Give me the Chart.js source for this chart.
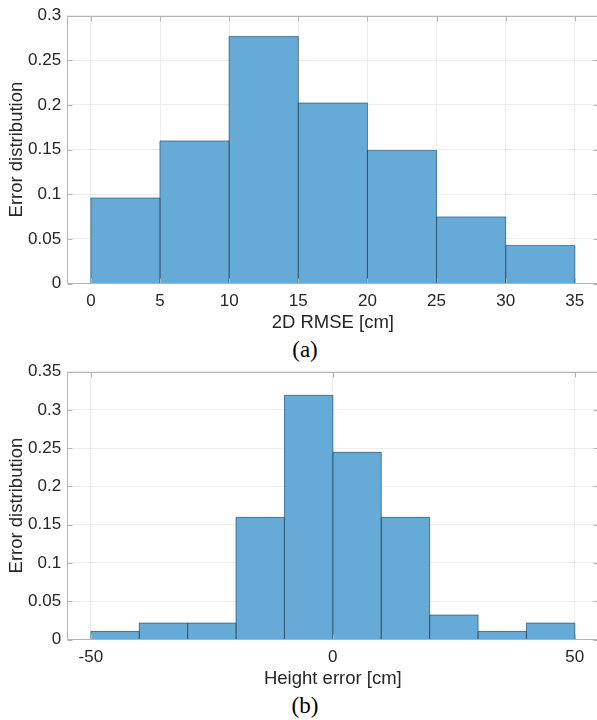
<!DOCTYPE html>
<html><head><meta charset="utf-8">
<script src="https://cdn.jsdelivr.net/npm/chart.js@4"></script>
<style>
html,body{margin:0;padding:0;background:#fff;overflow:hidden;width:597px;height:720px;}
.wrap{position:absolute;left:0;width:600px;}
.cap{position:absolute;width:100px;text-align:center;font-family:"Liberation Serif","Times New Roman",serif;font-size:23px;line-height:26px;color:#000;}
</style></head><body>
<div class="wrap" style="top:0;height:334px"><canvas id="ca"></canvas></div>
<div class="cap" style="left:255px;top:337px">(a)</div>
<div class="wrap" style="top:356px;height:334px"><canvas id="cb"></canvas></div>
<div class="cap" style="left:255px;top:693px">(b)</div>
<script>
// ---- data (a) ----
const binEdgesA = [0, 5, 10, 15, 20, 25, 30, 35];
const distA = [0.0957, 0.1596, 0.2766, 0.2021, 0.1489, 0.0745, 0.0426];
const xTicksA = [0, 5, 10, 15, 20, 25, 30, 35];
const yTicksA = [0, 0.05, 0.1, 0.15, 0.2, 0.25, 0.3];
const xTitleA = '2D RMSE [cm]';
// ---- data (b) ----
const binEdgesB = [-50, -40, -30, -20, -10, 0, 10, 20, 30, 40, 50];
const distB = [0.0106, 0.0213, 0.0213, 0.1596, 0.3191, 0.2447, 0.1596, 0.0319, 0.0106, 0.0213];
const xTicksB = [-50, 0, 50];
const yTicksB = [0, 0.05, 0.1, 0.15, 0.2, 0.25, 0.3, 0.35];
const xTitleB = 'Height error [cm]';
const yTitle = 'Error distribution';

const TXT = '#262626';
const SPINE = '#b4b4b4';
const GRID = '#ededed';

const edgePlugin = {
  id: 'edges',
  afterDatasetsDraw(chart) {
    const ctx = chart.ctx;
    const meta = chart.getDatasetMeta(0);
    ctx.save();
    ctx.strokeStyle = 'rgba(20,40,60,0.42)';
    ctx.lineWidth = 1;
    meta.data.forEach(el => {
      const l = el.x - el.width / 2, r = el.x + el.width / 2;
      ctx.beginPath();
      ctx.moveTo(l, el.base); ctx.lineTo(l, el.y); ctx.lineTo(r, el.y); ctx.lineTo(r, el.base);
      ctx.stroke();
    });
    ctx.restore();
  }
};

const boxPlugin = {
  id: 'box',
  afterDraw(chart) {
    const {ctx, chartArea: a, scales: {x, y}} = chart;
    const L = Math.round(a.left) + 0.5, R = Math.round(a.right) - 0.5;
    const T = Math.round(a.top) + 0.5, B = Math.round(a.bottom) - 0.5;
    ctx.save();
    ctx.strokeStyle = SPINE; ctx.lineWidth = 1;
    ctx.beginPath();
    ctx.rect(L, T, R - L, B - T);
    const tl = 5;
    x.ticks.forEach(t => {
      const px = Math.round(x.getPixelForValue(t.value)) + 0.5;
      ctx.moveTo(px, T); ctx.lineTo(px, T + tl);
      ctx.moveTo(px, B); ctx.lineTo(px, B - tl);
    });
    y.ticks.forEach(t => {
      const py = Math.round(y.getPixelForValue(t.value)) + 0.5;
      ctx.moveTo(L, py); ctx.lineTo(L + tl, py);
      ctx.moveTo(R, py); ctx.lineTo(R - tl, py);
    });
    ctx.stroke();
    ctx.restore();
  }
};

function makeChart(id, edges, dist, xTicks, yTicks, xMin, xMax, yMax, xTitle) {
  const pts = dist.map((v, i) => ({x: (edges[i] + edges[i + 1]) / 2, y: v}));
  return new Chart(document.getElementById(id), {
    type: 'bar',
    data: {datasets: [{
      data: pts,
      backgroundColor: '#66aad7',
      borderWidth: 0,
      barPercentage: 1,
      categoryPercentage: 1
    }]},
    options: {
      responsive: true,
      maintainAspectRatio: false,
      animation: false,
      layout: {padding: {top: 13, right: 1, left: 0, bottom: 0}},
      plugins: {legend: {display: false}, tooltip: {enabled: false}},
      scales: {
        x: {
          type: 'linear', min: xMin, max: xMax, offset: false,
          afterBuildTicks: s => { s.ticks = xTicks.map(v => ({value: v})); },
          afterFit: s => { s.height = 50.5; },
          grid: {color: GRID, drawTicks: false, offset: false},
          border: {display: false},
          ticks: {padding: 7.5, color: TXT, autoSkip: false, maxRotation: 0,
                  font: {family: 'Liberation Sans', size: 17},
                  callback: v => String(v)},
          title: {display: true, text: xTitle, color: TXT, padding: {top: 0, bottom: 0},
                  font: {family: 'Liberation Sans', size: 18.5}}
        },
        y: {
          min: 0, max: yMax,
          afterBuildTicks: s => { s.ticks = yTicks.map(v => ({value: v})); },
          afterFit: s => { s.width = 66.7; },
          grid: {color: GRID, drawTicks: false},
          border: {display: false},
          ticks: {padding: 5.5, color: TXT,
                  font: {family: 'Liberation Sans', size: 17},
                  callback: v => String(v)},
          title: {display: true, text: yTitle, color: TXT, padding: {top: 6, bottom: 0},
                  font: {family: 'Liberation Sans', size: 18.5}}
        }
      }
    },
    plugins: [edgePlugin, boxPlugin]
  });
}

makeChart('ca', binEdgesA, distA, xTicksA, yTicksA, -1.75, 36.75, 0.3, xTitleA);
makeChart('cb', binEdgesB, distB, xTicksB, yTicksB, -55, 55, 0.35, xTitleB);
</script>
</body></html>
